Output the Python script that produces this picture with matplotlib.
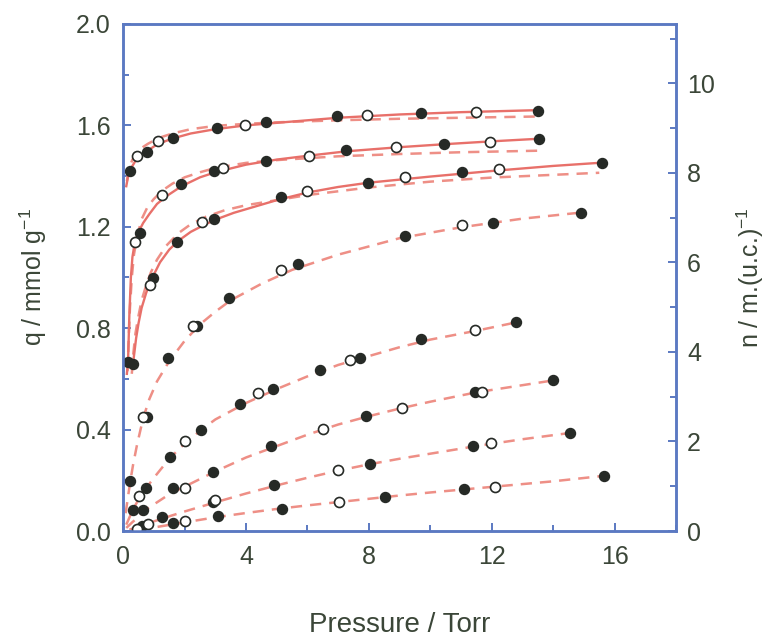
import matplotlib
matplotlib.use("Agg")
import matplotlib.pyplot as plt
from matplotlib.ticker import MultipleLocator

plt.rcParams['font.family'] = ['Liberation Sans', 'DejaVu Sans']
plt.rcParams['mathtext.fontset'] = 'custom'
plt.rcParams['mathtext.rm'] = 'Liberation Sans'
plt.rcParams['mathtext.it'] = 'Liberation Sans'

# ---------------- data ----------------
# experimental points: filled and open circles for 8 isotherms
filled_x = [
    [0.23, 0.78, 1.62, 3.07, 4.66, 6.96, 9.68, 13.5],
    [0.16, 0.55, 1.88, 2.95, 4.66, 7.25, 10.45, 13.53],
    [0.32, 0.97, 1.75, 2.95, 5.15, 7.96, 11.04, 15.6],
    [0.23, 0.78, 1.46, 2.4, 3.46, 5.7, 9.19, 12.04, 14.9],
    [0.32, 0.74, 1.52, 2.52, 3.79, 4.89, 6.41, 7.7, 9.71, 12.78],
    [0.65, 1.62, 2.91, 4.82, 7.9, 11.46, 13.98],
    [0.61, 1.26, 2.91, 4.92, 8.03, 11.39, 14.56],
    [1.62, 3.1, 5.18, 8.51, 11.1, 15.66],
]
filled_q = [
    [1.421, 1.496, 1.551, 1.590, 1.614, 1.638, 1.650, 1.658],
    [0.665, 1.177, 1.370, 1.421, 1.460, 1.504, 1.528, 1.547],
    [0.657, 0.996, 1.138, 1.232, 1.319, 1.374, 1.417, 1.453],
    [0.197, 0.449, 0.681, 0.807, 0.921, 1.055, 1.165, 1.216, 1.256],
    [0.083, 0.169, 0.291, 0.398, 0.500, 0.559, 0.634, 0.681, 0.756, 0.823],
    [0.083, 0.169, 0.232, 0.335, 0.453, 0.547, 0.594],
    [0.020, 0.055, 0.114, 0.181, 0.264, 0.335, 0.386],
    [0.031, 0.059, 0.087, 0.134, 0.165, 0.217],
]
open_x = [
    [0.45, 1.13, 3.95, 7.93, 11.49],
    [0.39, 1.26, 3.24, 6.05, 8.87, 11.94],
    [0.87, 2.56, 6.0, 9.16, 12.23],
    [0.65, 2.27, 5.15, 11.04],
    [0.52, 2.0, 4.4, 7.38, 11.46],
    [2.0, 6.5, 9.09, 11.68],
    [0.81, 2.98, 6.99, 11.97],
    [0.45, 2.0, 7.02, 12.1],
]
open_q = [
    [1.480, 1.540, 1.602, 1.642, 1.654],
    [1.138, 1.327, 1.433, 1.480, 1.516, 1.535],
    [0.972, 1.220, 1.343, 1.398, 1.429],
    [0.449, 0.807, 1.031, 1.208],
    [0.138, 0.354, 0.543, 0.673, 0.791],
    [0.169, 0.402, 0.484, 0.547],
    [0.028, 0.122, 0.240, 0.346],
    [0.008, 0.039, 0.114, 0.173],
]

# solid fitted curves (top three isotherms)
solid_x = [
    [0.10, 0.16, 0.22, 0.30, 0.45, 0.60, 0.80, 1.1, 1.6, 2.2, 3.0, 4.0, 5.0, 7.0, 9.0, 11.0, 13.5],
    [0.12, 0.16, 0.20, 0.25, 0.30, 0.38, 0.50, 0.65, 0.85, 1.1, 1.4, 1.9, 2.5, 3.0, 4.0, 5.0, 6.0, 7.3, 9.0, 10.5, 12.0, 13.5],
    [0.30, 0.35, 0.42, 0.50, 0.60, 0.75, 0.95, 1.2, 1.5, 1.8, 2.2, 2.6, 3.0, 3.6, 4.3, 5.0, 6.0, 7.0, 8.0, 10.0, 12.0, 14.0, 15.6],
]
solid_q = [
    [1.36, 1.40, 1.42, 1.44, 1.47, 1.485, 1.50, 1.525, 1.548, 1.568, 1.585, 1.600, 1.610, 1.630, 1.643, 1.652, 1.660],
    [0.62, 0.68, 0.85, 1.00, 1.08, 1.14, 1.18, 1.215, 1.25, 1.29, 1.32, 1.36, 1.395, 1.415, 1.445, 1.465, 1.480, 1.498, 1.514, 1.526, 1.537, 1.547],
    [0.64, 0.69, 0.76, 0.82, 0.88, 0.94, 1.00, 1.06, 1.11, 1.145, 1.18, 1.205, 1.228, 1.255, 1.28, 1.305, 1.335, 1.357, 1.374, 1.398, 1.420, 1.440, 1.453],
]

# dashed fitted curves (all eight isotherms)
dash_x = [
    [0.12, 0.16, 0.22, 0.30, 0.40, 0.50, 0.65, 0.80, 1.0, 1.2, 1.6, 2.2, 3.0, 4.0, 5.0, 7.0, 9.0, 11.0, 13.5],
    [0.14, 0.18, 0.22, 0.28, 0.35, 0.45, 0.60, 0.80, 1.0, 1.3, 1.6, 2.0, 2.5, 3.0, 4.0, 5.0, 7.0, 9.0, 11.0, 13.5],
    [0.28, 0.33, 0.40, 0.50, 0.60, 0.75, 0.90, 1.1, 1.4, 1.8, 2.2, 2.7, 3.3, 4.0, 5.0, 6.0, 8.0, 10.0, 12.0, 15.5],
    [0.08, 0.15, 0.23, 0.32, 0.45, 0.65, 0.85, 1.1, 1.5, 2.0, 2.5, 3.0, 3.5, 4.5, 5.5, 7.0, 9.0, 11.0, 13.0, 14.9],
    [0.10, 0.30, 0.50, 0.75, 1.0, 1.5, 2.0, 2.5, 3.0, 4.0, 5.0, 6.0, 7.0, 8.0, 9.0, 10.0, 11.5, 12.8],
    [0.10, 0.30, 0.50, 0.75, 1.0, 1.5, 2.0, 3.0, 4.0, 5.0, 6.0, 7.0, 8.0, 9.0, 10.0, 11.5, 14.0],
    [0.20, 0.50, 1.0, 1.5, 2.0, 3.0, 4.0, 5.0, 6.0, 7.0, 8.0, 9.0, 10.0, 11.5, 13.0, 14.5],
    [0.50, 1.0, 2.0, 3.0, 4.0, 5.0, 6.0, 7.0, 8.0, 9.0, 10.0, 11.0, 12.0, 13.0, 14.0, 15.6],
]
dash_q = [
    [1.38, 1.41, 1.44, 1.465, 1.485, 1.50, 1.515, 1.527, 1.540, 1.552, 1.568, 1.585, 1.598, 1.606, 1.612, 1.620, 1.626, 1.630, 1.635],
    [0.63, 0.76, 0.88, 1.00, 1.09, 1.16, 1.23, 1.28, 1.31, 1.345, 1.37, 1.395, 1.415, 1.432, 1.452, 1.463, 1.478, 1.487, 1.494, 1.500],
    [0.62, 0.70, 0.78, 0.85, 0.91, 0.97, 1.02, 1.07, 1.125, 1.175, 1.21, 1.24, 1.265, 1.285, 1.305, 1.325, 1.355, 1.378, 1.394, 1.413],
    [0.07, 0.13, 0.195, 0.26, 0.34, 0.445, 0.52, 0.59, 0.67, 0.75, 0.815, 0.865, 0.91, 0.975, 1.03, 1.09, 1.155, 1.198, 1.232, 1.256],
    [0.025, 0.08, 0.125, 0.17, 0.21, 0.285, 0.345, 0.395, 0.44, 0.505, 0.56, 0.61, 0.655, 0.69, 0.725, 0.755, 0.79, 0.823],
    [0.012, 0.035, 0.055, 0.085, 0.105, 0.145, 0.175, 0.235, 0.29, 0.335, 0.38, 0.42, 0.453, 0.483, 0.51, 0.547, 0.594],
    [0.005, 0.018, 0.038, 0.058, 0.077, 0.113, 0.148, 0.180, 0.21, 0.238, 0.263, 0.285, 0.305, 0.335, 0.362, 0.386],
    [0.005, 0.014, 0.034, 0.054, 0.071, 0.087, 0.101, 0.114, 0.127, 0.140, 0.152, 0.163, 0.174, 0.185, 0.196, 0.217],
]

x_ticks = [0, 4, 8, 12, 16]
q_ticks = [0.0, 0.4, 0.8, 1.2, 1.6, 2.0]
n_ticks = [0, 2, 4, 6, 8, 10]
n_per_q = 5.665  # right-axis scale: molecules per unit cell per mmol/g

# ---------------- styling ----------------
spine_c = '#5b79c2'
text_c = '#3b4638'
solid_c = '#e8706a'
dash_c = '#ee8f86'
dot_c = '#262a26'

fig = plt.figure(figsize=(7.7, 6.37), dpi=100)
ax = fig.add_axes([0.160, 0.1664, 0.718, 0.796])

for xs, qs in zip(dash_x, dash_q):
    ax.plot(xs, qs, color=dash_c, lw=1.8, dashes=(4.5, 3.2), zorder=2)
for xs, qs in zip(solid_x, solid_q):
    ax.plot(xs, qs, color=solid_c, lw=1.7, zorder=2)
for xs, qs in zip(filled_x, filled_q):
    ax.plot(xs, qs, 'o', ms=7.2, mfc=dot_c, mec=dot_c, mew=1.0, ls='none', zorder=3)
for xs, qs in zip(open_x, open_q):
    ax.plot(xs, qs, 'o', ms=7.2, mfc='white', mec=dot_c, mew=1.2, ls='none', zorder=3)

ax.set_xlim(0, 18)
ax.set_ylim(0, 2.0)
ax.set_xticks(x_ticks)
ax.set_yticks(q_ticks)
ax.set_yticklabels([f"{v:.1f}" for v in q_ticks])
ax.xaxis.set_minor_locator(MultipleLocator(2))
ax.yaxis.set_minor_locator(MultipleLocator(0.2))

ax2 = ax.twinx()
ax2.set_ylim(0, 2.0 * n_per_q)
ax2.set_yticks(n_ticks)
ax2.yaxis.set_minor_locator(MultipleLocator(1))

for a in (ax, ax2):
    for s in a.spines.values():
        s.set_color(spine_c)
        s.set_linewidth(1.8)
    a.tick_params(which='both', direction='in', color=spine_c, labelcolor=text_c,
                  labelsize=18, width=1.4)
    a.tick_params(which='major', length=6)
    a.tick_params(which='minor', length=4)
ax.tick_params(axis='y', pad=9, right=False)
ax.tick_params(axis='x', pad=10, top=False)
ax2.tick_params(axis='y', pad=8)

ax.set_xlabel('Pressure / Torr', fontsize=20, color=text_c)
ax.xaxis.set_label_coords(0.5, -0.186)
ax.xaxis.label.set_va('center')
ax.set_ylabel(r'q / mmol g$^{-1}$', fontsize=18, color=text_c)
ax.yaxis.set_label_coords(-0.163, 0.5)
ax.yaxis.label.set_va('center')
ax2.set_ylabel(r'n / m.(u.c.)$^{-1}$', fontsize=18, color=text_c, rotation=90)
ax2.yaxis.set_label_coords(1.135, 0.5)
ax2.yaxis.label.set_va('center')

fig.savefig('out.png', dpi=100, facecolor='white')
